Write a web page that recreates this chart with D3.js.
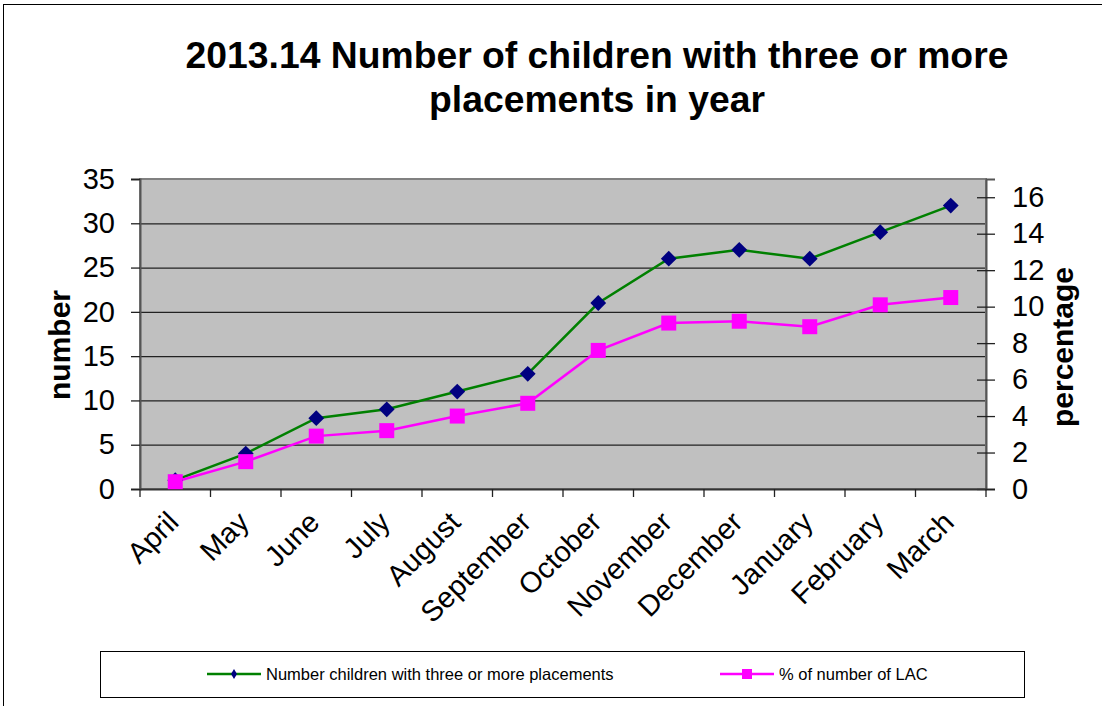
<!DOCTYPE html>
<html lang="en">
<head>
  <meta charset="UTF-8">
  <title>Placements chart</title>
  <script src='https://d3js.org/d3.v7.min.js'></script>
</head>
<body style="margin:0;background:#fff">
</body>
<script>
  const months = ["April", "May", "June", "July", "August", "September", "October",
    "November", "December", "January", "February", "March"];
  const numberChildren = [1, 4, 8, 9, 11, 13, 21, 26, 27, 26, 29, 32];
  const percentLAC = [0.4, 1.5, 2.9, 3.2, 4.0, 4.7, 7.6, 9.1, 9.2, 8.9, 10.1, 10.5];
  const leftTicks = [0, 5, 10, 15, 20, 25, 30, 35];
  const rightTicks = [0, 2, 4, 6, 8, 10, 12, 14, 16];
  const titleLines = ["2013.14 Number of children with three or more", "placements in year"];
  const seriesNames = ["Number children with three or more placements", "% of number of LAC"];

  const W = 1102, H = 706;
  const plot = {left: 140, top: 179, right: 986, bottom: 489};
  const font = "'Liberation Sans', Arial, sans-serif";

  const svg = d3.select("body").append("svg")
    .attr("width", W).attr("height", H)
    .style("font-family", font);

  // outer chart border (runs off the page on right/bottom)
  svg.append("rect")
    .attr("x", 3.5).attr("y", 4.5)
    .attr("width", 1120).attr("height", 720)
    .attr("fill", "#fff").attr("stroke", "#000").attr("stroke-width", 1);

  // title
  svg.append("text")
    .attr("text-anchor", "middle")
    .attr("font-weight", "bold")
    .attr("font-size", 37.3)
    .selectAll("tspan")
    .data(titleLines)
    .enter().append("tspan")
    .attr("x", 597)
    .attr("y", (d, i) => 68 + i * 44)
    .text(d => d);

  // scales
  const x = d3.scaleBand().domain(months).range([plot.left, plot.right]);
  const yL = d3.scaleLinear().domain([0, 35]).range([plot.bottom, plot.top]);
  const yR = d3.scaleLinear().domain([0, 17]).range([plot.bottom, plot.top]);

  // plot area
  svg.append("rect")
    .attr("x", plot.left).attr("y", plot.top)
    .attr("width", plot.right - plot.left).attr("height", plot.bottom - plot.top)
    .attr("fill", "#c0c0c0");

  // gridlines
  svg.append("g")
    .selectAll("line")
    .data(leftTicks.slice(1, -1))
    .enter().append("line")
    .attr("x1", plot.left).attr("x2", plot.right)
    .attr("y1", d => yL(d) + 0.5).attr("y2", d => yL(d) + 0.5)
    .attr("stroke", "#222").attr("stroke-width", 1.3);

  svg.append("rect")
    .attr("x", plot.left).attr("y", plot.top)
    .attr("width", plot.right - plot.left).attr("height", plot.bottom - plot.top)
    .attr("fill", "none").attr("stroke", "#808080").attr("stroke-width", 2);

  // left axis
  const gL = svg.append("g")
    .attr("transform", `translate(${plot.left},0)`)
    .call(d3.axisLeft(yL).tickValues(leftTicks).tickSize(9).tickPadding(16));
  gL.select(".domain").attr("stroke", "#555").attr("stroke-width", 2);
  gL.selectAll(".tick line").attr("stroke", "#222").attr("stroke-width", 1.3);
  gL.selectAll("text").attr("font-size", 29).attr("font-family", font).attr("fill", "#000");

  // right axis (cross ticks)
  const gR = svg.append("g")
    .attr("transform", `translate(${plot.right},0)`)
    .call(d3.axisRight(yR).tickValues(rightTicks).tickSize(9).tickPadding(17));
  gR.select(".domain").attr("stroke", "#555").attr("stroke-width", 2);
  gR.selectAll(".tick line").attr("x1", -9).attr("stroke", "#222").attr("stroke-width", 1.3);
  gR.selectAll("text").attr("font-size", 29).attr("font-family", font).attr("fill", "#000");

  // bottom axis
  const gB = svg.append("g")
    .attr("transform", `translate(0,${plot.bottom})`)
    .call(d3.axisBottom(x).tickSize(0).tickPadding(0));
  gB.select(".domain").attr("stroke", "#333").attr("stroke-width", 2);
  gB.selectAll(".tick").append("line")
    .attr("x1", -x.bandwidth() / 2).attr("x2", -x.bandwidth() / 2)
    .attr("y1", 0).attr("y2", 8)
    .attr("stroke", "#222").attr("stroke-width", 1.3);
  gB.append("line")
    .attr("x1", plot.right).attr("x2", plot.right)
    .attr("y1", 0).attr("y2", 8)
    .attr("stroke", "#222").attr("stroke-width", 1.3);
  gB.selectAll(".tick text")
    .attr("font-size", 29).attr("font-family", font).attr("fill", "#000")
    .attr("text-anchor", "end")
    .attr("dy", null).attr("y", 0)
    .attr("transform", "translate(5,35) rotate(-45)");

  // axis titles
  svg.append("text")
    .attr("transform", "translate(70,345) rotate(-90)")
    .attr("text-anchor", "middle")
    .attr("font-weight", "bold").attr("font-size", 30)
    .text("number");
  svg.append("text")
    .attr("transform", "translate(1073,347) rotate(-90)")
    .attr("text-anchor", "middle")
    .attr("font-weight", "bold").attr("font-size", 30)
    .text("percentage");

  // lines
  const cx = d => x(d) + x.bandwidth() / 2;
  const lineL = d3.line().x((d, i) => cx(months[i])).y(d => yL(d));
  const lineR = d3.line().x((d, i) => cx(months[i])).y(d => yR(d));

  svg.append("path").datum(numberChildren)
    .attr("fill", "none").attr("stroke", "#008000").attr("stroke-width", 2.5)
    .attr("d", lineL);
  svg.append("path").datum(percentLAC)
    .attr("fill", "none").attr("stroke", "#ff00ff").attr("stroke-width", 2.5)
    .attr("d", lineR);

  const diamond = d3.symbol().type(d3.symbolSquare).size(125);
  svg.selectAll(".dia")
    .data(numberChildren)
    .enter().append("path")
    .attr("class", "dia")
    .attr("d", diamond)
    .attr("transform", (d, i) => `translate(${cx(months[i])},${yL(d)}) rotate(45)`)
    .attr("fill", "#000080");

  svg.selectAll(".sq")
    .data(percentLAC)
    .enter().append("rect")
    .attr("class", "sq")
    .attr("x", (d, i) => cx(months[i]) - 7.5)
    .attr("y", d => yR(d) - 7.5)
    .attr("width", 15).attr("height", 15)
    .attr("fill", "#ff00ff");

  // legend
  const lg = svg.append("g");
  lg.append("rect")
    .attr("x", 100.5).attr("y", 651.5)
    .attr("width", 924).attr("height", 46)
    .attr("fill", "#fff").attr("stroke", "#000").attr("stroke-width", 1);

  const legendItems = [
    {name: seriesNames[0], color: "#008000", x: 207},
    {name: seriesNames[1], color: "#ff00ff", x: 720}
  ];
  legendItems.forEach((it, i) => {
    lg.append("line")
      .attr("x1", it.x).attr("x2", it.x + 54)
      .attr("y1", 674).attr("y2", 674)
      .attr("stroke", it.color).attr("stroke-width", 2.5);
    if (i === 0) {
      lg.append("path")
        .attr("d", d3.symbol().type(d3.symbolSquare).size(32))
        .attr("transform", `translate(${it.x + 27},674) scale(0.75,1.25) rotate(45)`)
        .attr("fill", "#000080");
    } else {
      lg.append("rect")
        .attr("x", it.x + 27 - 5).attr("y", 669)
        .attr("width", 10).attr("height", 10)
        .attr("fill", "#ff00ff");
    }
    lg.append("text")
      .attr("x", it.x + 59).attr("y", 680)
      .attr("font-size", 16.5)
      .text(it.name);
  });
</script>
</html>
